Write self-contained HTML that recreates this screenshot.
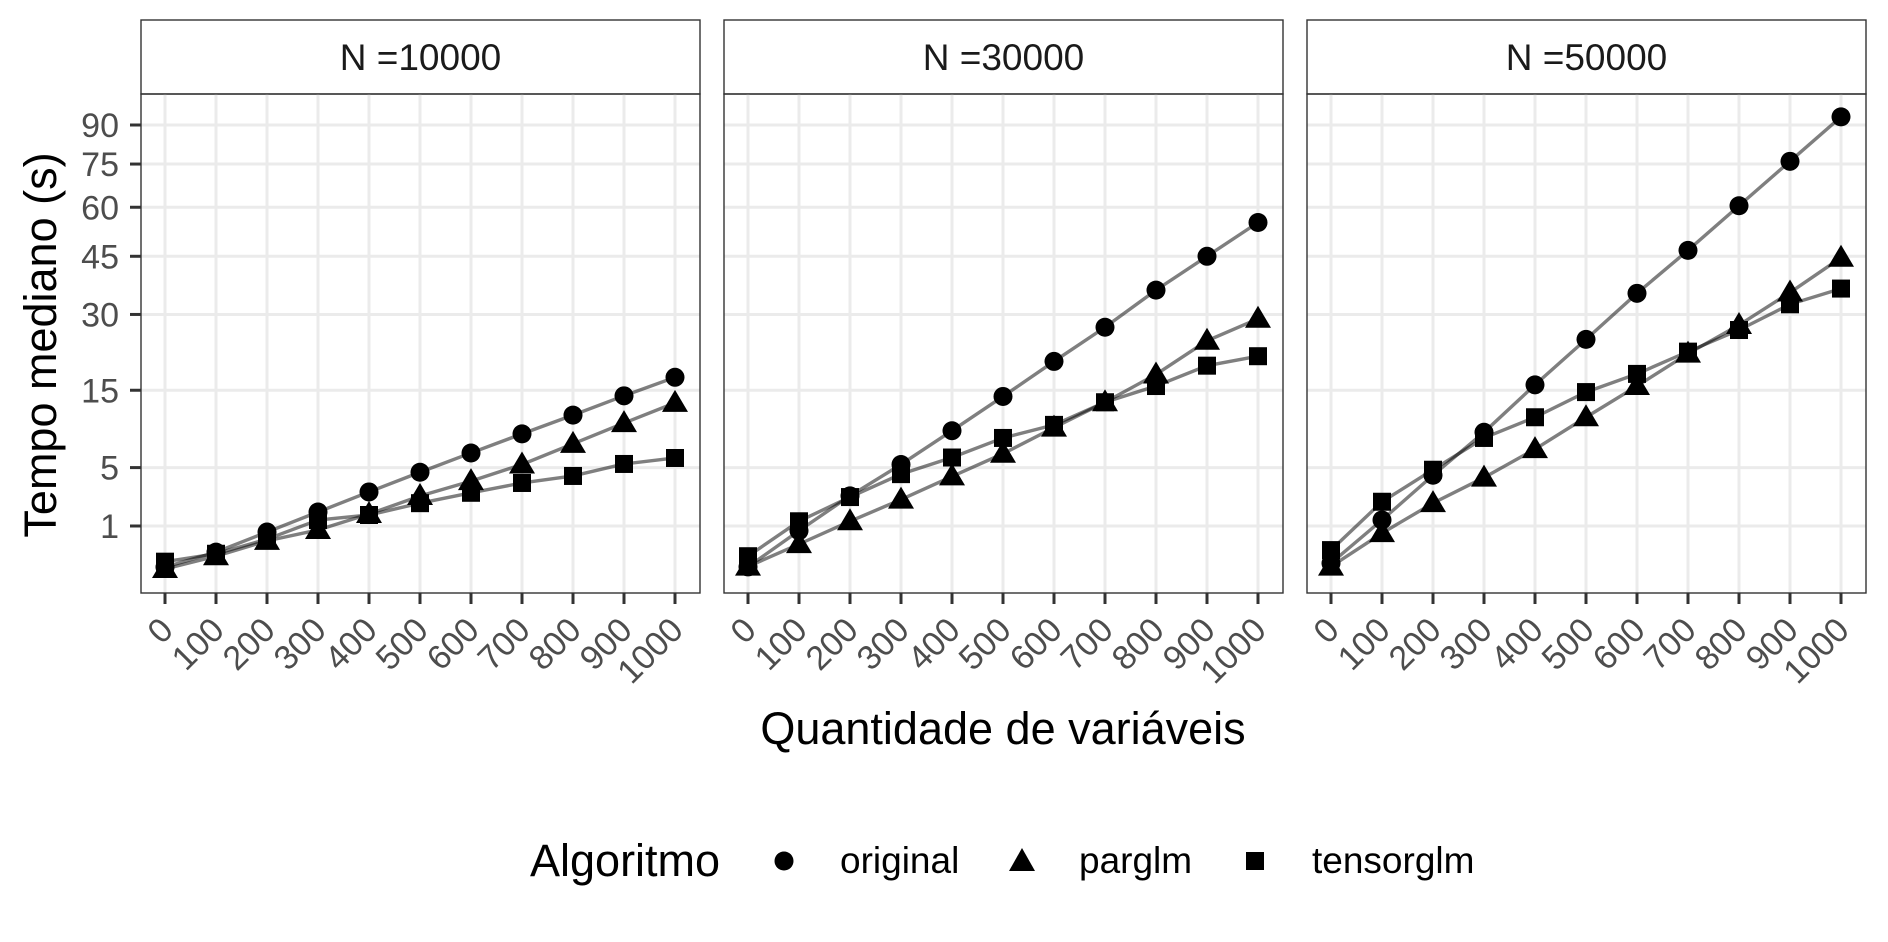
<!DOCTYPE html>
<html><head><meta charset="utf-8">
<style>
html,body{margin:0;padding:0;background:#fff;}
svg{display:block;font-family:"Liberation Sans",Arial,sans-serif;}
</style></head>
<body>
<svg id="chart" width="1888" height="942" viewBox="0 0 1888 942">
  <g id="panels"></g>
  <text x="56" y="345" font-size="45" fill="#000" text-anchor="middle" transform="rotate(-90 56 345)">Tempo mediano (s)</text>
  <text x="1003" y="744" font-size="45" fill="#000" text-anchor="middle">Quantidade de variáveis</text>
  <g>
    <text x="530" y="876" font-size="45" fill="#000">Algoritmo</text>
    <g>
      <circle cx="784" cy="861" r="9.5" fill="#000"></circle>
      <text x="840" y="873" font-size="37" fill="#000">original</text>
    </g>
    <g>
      <polygon points="1022,848 1035,871 1009,871" fill="#000"></polygon>
      <text x="1079" y="873" font-size="37" fill="#000">parglm</text>
    </g>
    <g>
      <rect x="1246" y="852" width="18" height="18" fill="#000"></rect>
      <text x="1312" y="873" font-size="37" fill="#000">tensorglm</text>
    </g>
  </g>
</svg>
<script>
const facets = ["N =10000", "N =30000", "N =50000"];
const xCategories = [0, 100, 200, 300, 400, 500, 600, 700, 800, 900, 1000];
const yTicks = [1, 5, 15, 30, 45, 60, 75, 90];
const originalN10000 = [0.017, 0.2, 0.76, 1.68, 2.96, 4.57, 6.48, 8.7, 11.2, 14.1, 17.2];
const parglmN10000 = [0.008, 0.13, 0.47, 0.84, 1.57, 2.67, 3.8, 5.3, 7.5, 10.1, 13.0];
const tensorglmN10000 = [0.06, 0.17, 0.52, 1.27, 1.52, 2.2, 2.9, 3.65, 4.24, 5.35, 5.95];
const originalN30000 = [0.018, 0.81, 2.68, 5.3, 9.1, 14.0, 20.1, 27.1, 35.9, 45, 55.1];
const parglmN30000 = [0.02, 0.38, 1.21, 2.43, 4.2, 6.4, 9.5, 13.1, 17.7, 24.2, 29.0];
const tensorglmN30000 = [0.13, 1.21, 2.6, 4.4, 6.0, 8.2, 9.86, 13.1, 15.7, 19.3, 21.1];
const originalN50000 = [0.045, 1.27, 4.3, 8.9, 15.9, 24.5, 35.1, 46.7, 60.5, 76, 93.3];
const parglmN50000 = [0.02, 0.72, 2.2, 4.1, 6.9, 10.9, 15.7, 21.6, 27.6, 35.3, 44.6];
const tensorglmN50000 = [0.24, 2.29, 4.8, 8.2, 10.9, 14.7, 17.8, 22.0, 26.5, 32.4, 36.3];

const seriesByFacet = [
  [["original", originalN10000], ["parglm", parglmN10000], ["tensorglm", tensorglmN10000]],
  [["original", originalN30000], ["parglm", parglmN30000], ["tensorglm", tensorglmN30000]],
  [["original", originalN50000], ["parglm", parglmN50000], ["tensorglm", tensorglmN50000]]
];

const NS = "http://www.w3.org/2000/svg";
const panelLefts = [141, 724, 1307];
const panelW = 559, stripTop = 20, plotTop = 94, plotBottom = 593;
function yScale(v){ return 526 - (Math.sqrt(v) - 1) * 47.25; }
function xScale(v, left){ return left + 24 + (v / 1000) * 510; }
function mk(tag, attrs, parent){
  const el = document.createElementNS(NS, tag);
  for (const k in attrs) el.setAttribute(k, attrs[k]);
  parent.appendChild(el);
  return el;
}
const root = document.getElementById("panels");
facets.forEach((f, i) => {
  const L = panelLefts[i];
  const g = mk("g", {}, root);
  
  
  const strip = mk("rect", {x: L, y: stripTop, width: panelW, height: plotTop - stripTop, fill: "#fff", stroke: "#333", "stroke-width": 1.4}, g);
  
  
  const st = mk("text", {x: L + panelW / 2, y: 70, "font-size": 37, fill: "#1a1a1a", "text-anchor": "middle"}, g);
  st.textContent = f;
  
  
  yTicks.forEach(t => {
    const y = yScale(t);
    const ln = mk("line", {x1: L, x2: L + panelW, y1: y, y2: y, stroke: "#ebebeb", "stroke-width": 3}, g);
    
    
  });
  xCategories.forEach(c => {
    const x = xScale(c, L);
    const ln = mk("line", {x1: x, x2: x, y1: plotTop, y2: plotBottom, stroke: "#ebebeb", "stroke-width": 3}, g);
    
    
    const tk = mk("line", {x1: x, x2: x, y1: plotBottom, y2: plotBottom + 11, stroke: "#333", "stroke-width": 3}, g);
    
    
    const tx = x + 10, ty = 632;
    const lb = mk("text", {x: tx, y: ty, "font-size": 34, fill: "#4d4d4d", "text-anchor": "end", transform: "rotate(-45 " + tx + " " + ty + ")"}, g);
    lb.textContent = String(c);
    
    
  });
  if (i === 0) {
    yTicks.forEach(t => {
      const y = yScale(t);
      const tk = mk("line", {x1: L - 11, x2: L, y1: y, y2: y, stroke: "#333", "stroke-width": 3}, g);
      
      
      const lb = mk("text", {x: L - 22, y: y + 12, "font-size": 34, fill: "#4d4d4d", "text-anchor": "end"}, g);
      lb.textContent = String(t);
      
      
    });
  }
  seriesByFacet[i].forEach(([name, vals]) => {
    const pts = vals.map((v, j) => [xScale(xCategories[j], L), yScale(v)]);
    const pl = mk("polyline", {points: pts.map(p => p.join(",")).join(" "), fill: "none", stroke: "#000", "stroke-opacity": 0.5, "stroke-width": 3.4}, g);
    
    
  });
  seriesByFacet[i].forEach(([name, vals]) => {
    vals.forEach((v, j) => {
      const x = xScale(xCategories[j], L), y = yScale(v);
      let m;
      if (name === "original") m = mk("circle", {cx: x, cy: y, r: 9.5, fill: "#000"}, g);
      else if (name === "parglm") m = mk("polygon", {points: (x) + "," + (y - 13) + " " + (x + 13) + "," + (y + 9) + " " + (x - 13) + "," + (y + 9), fill: "#000"}, g);
      else m = mk("rect", {x: x - 9, y: y - 9, width: 18, height: 18, fill: "#000"}, g);
      
      
    });
  });
  const border = mk("rect", {x: L, y: plotTop, width: panelW, height: plotBottom - plotTop, fill: "none", stroke: "#333", "stroke-width": 1.4}, g);
  
  
});
</script>
</body></html>
